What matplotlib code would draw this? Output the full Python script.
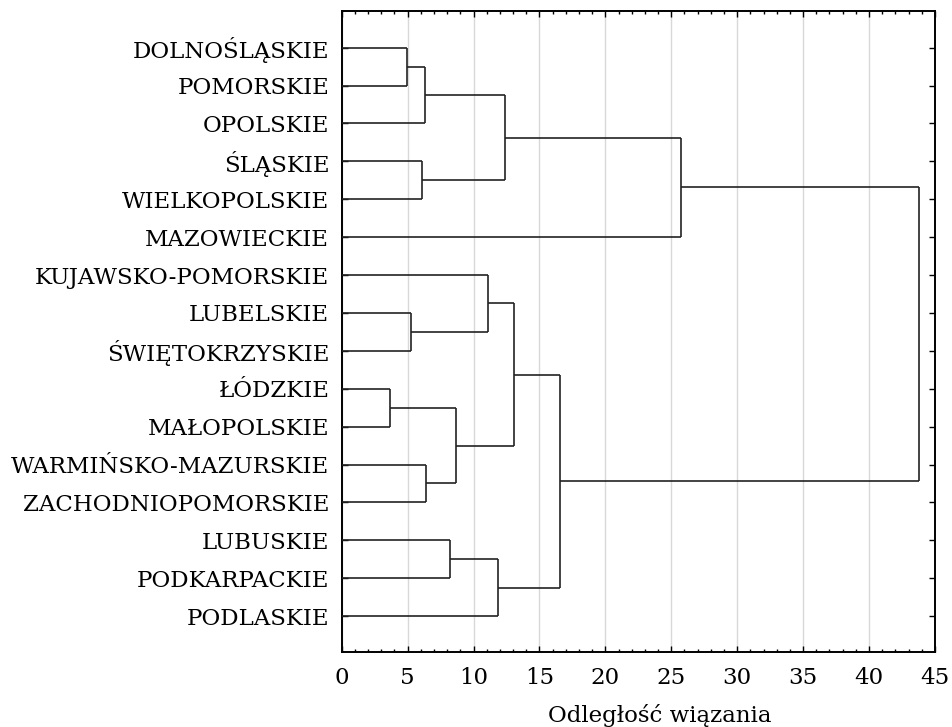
import matplotlib
matplotlib.use("Agg")
import matplotlib.pyplot as plt
from matplotlib.ticker import MultipleLocator

# Leaves in the order they appear, top to bottom
leaf_labels = [
    "DOLNOŚLĄSKIE", "POMORSKIE", "OPOLSKIE", "ŚLĄSKIE", "WIELKOPOLSKIE",
    "MAZOWIECKIE", "KUJAWSKO-POMORSKIE", "LUBELSKIE", "ŚWIĘTOKRZYSKIE",
    "ŁÓDZKIE", "MAŁOPOLSKIE", "WARMIŃSKO-MAZURSKIE", "ZACHODNIOPOMORSKIE",
    "LUBUSKIE", "PODKARPACKIE", "PODLASKIE",
]

# Linkage (scipy style): new cluster ids start at len(leaf_labels)
merge_left = [9, 0, 7, 3, 17, 11, 13, 16, 6, 22, 20, 24, 27, 26, 29]
merge_right = [10, 1, 8, 4, 2, 12, 14, 21, 18, 15, 19, 23, 25, 5, 28]
merge_height = [3.68, 4.97, 5.25, 6.06, 6.29, 6.37, 8.23, 8.68,
                11.11, 11.86, 12.42, 13.09, 16.56, 25.76, 43.8]

x_label = "Odległość wiązania"

plt.rcParams['font.family'] = ['DejaVu Serif']

fig = plt.figure(figsize=(9.52, 7.27), dpi=100)
ax = fig.add_axes([0.359, 0.103, 0.623, 0.882])

n = len(leaf_labels)
pos = {i: float(i) for i in range(n)}
height = {i: 0.0 for i in range(n)}

line_kw = dict(color='#222222', linewidth=1.2, solid_capstyle='butt', zorder=3)
for k, (a, b, h) in enumerate(zip(merge_left, merge_right, merge_height)):
    cid = n + k
    for c in (a, b):
        ax.plot([height[c], h], [pos[c], pos[c]], **line_kw)
    ax.plot([h, h], [pos[a], pos[b]], **line_kw)
    pos[cid] = (pos[a] + pos[b]) / 2
    height[cid] = h

ax.set_xlim(0, 45)
ax.set_ylim(15.95, -0.97)
ax.xaxis.set_major_locator(MultipleLocator(5))
ax.xaxis.set_minor_locator(MultipleLocator(1))
ax.set_yticks(range(n))
ax.set_yticklabels(leaf_labels)
ax.grid(True, axis='x', which='major', color='#d8d8d8', linewidth=1.0, zorder=0)
ax.set_axisbelow(True)

ax.tick_params(axis='both', which='major', direction='in', length=4, width=1,
               top=True, right=True, labelsize=16.5, colors='black')
ax.tick_params(axis='x', which='minor', direction='in', length=2, width=1,
               top=True, bottom=True)
ax.tick_params(axis='y', which='minor', left=False, right=False)
ax.tick_params(axis='y', pad=9)
ax.tick_params(axis='x', pad=11)

for s in ax.spines.values():
    s.set_linewidth(1.4)
    s.set_color('black')

ax.set_xlabel(x_label, fontsize=16.5)
ax.xaxis.set_label_coords(0.536, -0.099)
ax.xaxis.label.set_va('center')

fig.savefig("out.png", dpi=100)
